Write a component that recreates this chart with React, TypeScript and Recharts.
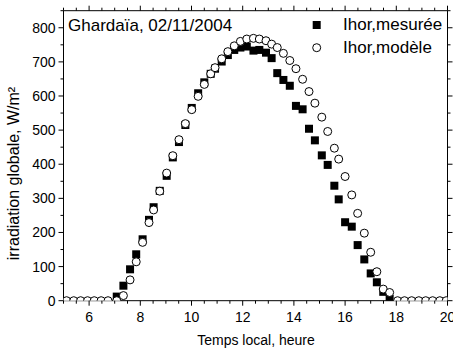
import { ScatterChart, Scatter, XAxis, YAxis, Legend } from 'recharts'

const FONT = 'Arial, "Liberation Sans", sans-serif'

// heures (temps local) des mesures de la journée
const heuresJour = [
    7.08, 7.34, 7.6, 7.84, 8.09, 8.34, 8.52, 8.76, 9.03, 9.27,
    9.51, 9.76, 10.01, 10.26, 10.5, 10.75, 10.92, 11.18, 11.42, 11.67,
    11.91, 12.16, 12.42, 12.65, 12.91, 13.13, 13.35, 13.59, 13.84, 14.08,
    14.34, 14.59, 14.82, 15.09, 15.32, 15.58, 15.75, 16.0, 16.26, 16.49,
    16.75, 17.0, 17.24, 17.49, 17.74,
]

// Ihor mesurée, W/m²
const mesuree = [
    12, 44, 92, 136, 180, 237, 274, 322, 366, 420,
    465, 515, 565, 608, 640, 665, 680, 701, 720, 735,
    742, 745, 733, 735, 727, 711, 667, 647, 630, 571,
    561, 504, 470, 426, 398, 337, 297, 230, 217, 163,
    121, 80, 54, 26, 5,
]

// Ihor modèle, W/m²
const modeleJour = [
    0, 15, 61, 114, 171, 229, 266, 321, 374, 425,
    472, 519, 560, 599, 634, 665, 683, 709, 730, 747,
    760, 767, 769, 767, 762, 752, 742, 725, 704, 680,
    649, 613, 579, 538, 496, 447, 415, 364, 310, 256,
    198, 142, 85, 34, 24,
]

// modèle la nuit (avant le lever et après le coucher)
const heuresNuit = [5.12, 5.4, 5.67, 5.94, 6.2, 6.47, 6.74, 18.05, 18.32, 18.6, 18.88, 19.15, 19.42, 19.7, 19.95]
const modeleNuit = [0, 0, 0, 0, 0, 0, 0, 0, 0, 0, 0, 0, 0, 0, 0]

const ticksX = [5, 5.5, 6, 6.5, 7, 7.5, 8, 8.5, 9, 9.5, 10, 10.5, 11, 11.5, 12, 12.5, 13, 13.5, 14, 14.5, 15, 15.5, 16, 16.5, 17, 17.5, 18, 18.5, 19, 19.5, 20]
const ticksY = [0, 50, 100, 150, 200, 250, 300, 350, 400, 450, 500, 550, 600, 650, 700, 750, 800, 850]

const dataMesuree = heuresJour.map((h, i) => ({ x: h, y: mesuree[i] }))
const dataModele = [
    ...heuresNuit.map((h, i) => ({ x: h, y: modeleNuit[i] })),
    ...heuresJour.map((h, i) => ({ x: h, y: modeleJour[i] })),
]

// zone de tracé, pour couper les marqueurs qui débordent sous l'axe
const ZONE = { x: 63.5, y: 10.7, width: 384, height: 290 }

const carre = (p: any) => <rect x={p.cx - 4} y={p.cy - 4} width={8} height={8} fill="#000" />
const rond = (p: any) => {
    const id = `zt-${Math.round(p.cx * 10)}-${Math.round(p.cy * 10)}`
    return (
        <g>
            <defs>
                <clipPath id={id}>
                    <rect {...ZONE} />
                </clipPath>
            </defs>
            <circle cx={p.cx} cy={p.cy} r={4} fill="#fff" stroke="#000" strokeWidth={1} clipPath={`url(#${id})`} />
        </g>
    )
}

function BottomTick({ x, y, payload }: any) {
    const major = payload.value % 2 === 0
    return (
        <g>
            <line x1={x} x2={x} y1={y} y2={y + (major ? 5 : 3)} stroke="#000" />
            {major && (
                <text x={x} y={y + 21} textAnchor="middle" fontSize={14} fontFamily={FONT} fill="#000">
                    {payload.value}
                </text>
            )}
        </g>
    )
}

function TopTick({ x, y, payload }: any) {
    const major = payload.value % 2 === 0
    return <line x1={x} x2={x} y1={y} y2={y - (major ? 5 : 3)} stroke="#000" />
}

function LeftTick({ x, y, payload }: any) {
    const major = payload.value % 100 === 0
    return (
        <g>
            <line x1={x - (major ? 5 : 3)} x2={x} y1={y} y2={y} stroke="#000" />
            {major && (
                <text x={x - 8} y={y + 5} textAnchor="end" fontSize={14} fontFamily={FONT} fill="#000">
                    {payload.value}
                </text>
            )}
        </g>
    )
}

function RightTick({ x, y, payload }: any) {
    const major = payload.value % 100 === 0
    return <line x1={x} x2={x + (major ? 5 : 3)} y1={y} y2={y} stroke="#000" />
}

function LegendContent() {
    return (
        <svg width={150} height={50} style={{ display: 'block' }}>
            <rect x={12.7} y={11} width={8} height={8} fill="#000" />
            <text x={43} y={20} fontSize={17} fontFamily={FONT} fill="#000">Ihor,mesurée</text>
            <circle cx={16.7} cy={37.7} r={4} fill="#fff" stroke="#000" />
            <text x={43} y={43} fontSize={17} fontFamily={FONT} fill="#000">Ihor,modèle</text>
        </svg>
    )
}

export default function App() {
    return (
        <div style={{ position: 'absolute', left: 0, top: 0, width: 453, height: 348, background: '#fff' }}>
            <ScatterChart width={453} height={348} margin={{ top: 9.7, right: 4.5, bottom: 0, left: 0 }}>
                <XAxis
                    type="number"
                    dataKey="x"
                    domain={[5, 20]}
                    ticks={ticksX}
                    interval={0}
                    allowDataOverflow
                    height={47.3}
                    tickSize={0}
                    tickMargin={0}
                    tickLine={false}
                    axisLine={{ stroke: '#000' }}
                    tick={BottomTick}
                    label={{
                        content: () => (
                            <text x={256} y={345} textAnchor="middle" fontSize={14} fontFamily={FONT} fill="#000">
                                Temps local, heure
                            </text>
                        ),
                    }}
                />
                <XAxis
                    xAxisId="haut"
                    orientation="top"
                    type="number"
                    dataKey="x"
                    domain={[5, 20]}
                    ticks={ticksX}
                    interval={0}
                    allowDataOverflow
                    height={1}
                    tickSize={0}
                    tickMargin={0}
                    tickLine={false}
                    axisLine={{ stroke: '#000' }}
                    tick={TopTick}
                />
                <YAxis
                    type="number"
                    dataKey="y"
                    domain={[0, 850]}
                    ticks={ticksY}
                    interval={0}
                    allowDataOverflow
                    width={63.5}
                    tickSize={0}
                    tickMargin={0}
                    tickLine={false}
                    axisLine={{ stroke: '#000' }}
                    tick={LeftTick}
                    label={{
                        content: () => (
                            <text
                                transform="translate(19,173.5) rotate(-90)"
                                textAnchor="middle"
                                fontSize={16}
                                fontFamily={FONT}
                                fill="#000"
                            >
                                irradiation globale, W/m²
                            </text>
                        ),
                    }}
                />
                <YAxis
                    yAxisId="droite"
                    orientation="right"
                    type="number"
                    dataKey="y"
                    domain={[0, 850]}
                    ticks={ticksY}
                    interval={0}
                    allowDataOverflow
                    width={1}
                    tickSize={0}
                    tickMargin={0}
                    tickLine={false}
                    axisLine={{ stroke: '#000' }}
                    tick={RightTick}
                />
                <Legend
                    layout="vertical"
                    align="center"
                    verticalAlign="middle"
                    wrapperStyle={{ left: 300, top: 10, width: 150, height: 50 }}
                    content={LegendContent}
                />
                <Scatter name="Ihor,mesurée" data={dataMesuree} shape={carre} isAnimationActive={false} />
                <Scatter
                    name="Ihor,modèle"
                    data={dataModele}
                    xAxisId="haut"
                    yAxisId="droite"
                    shape={rond}
                    isAnimationActive={false}
                />
            </ScatterChart>
            <svg width={453} height={348} style={{ position: 'absolute', left: 0, top: 0, pointerEvents: 'none' }}>
                <text x={68} y={30.5} fontSize={17} fontFamily={FONT} fill="#000">Ghardaïa, 02/11/2004</text>
            </svg>
        </div>
    )
}
